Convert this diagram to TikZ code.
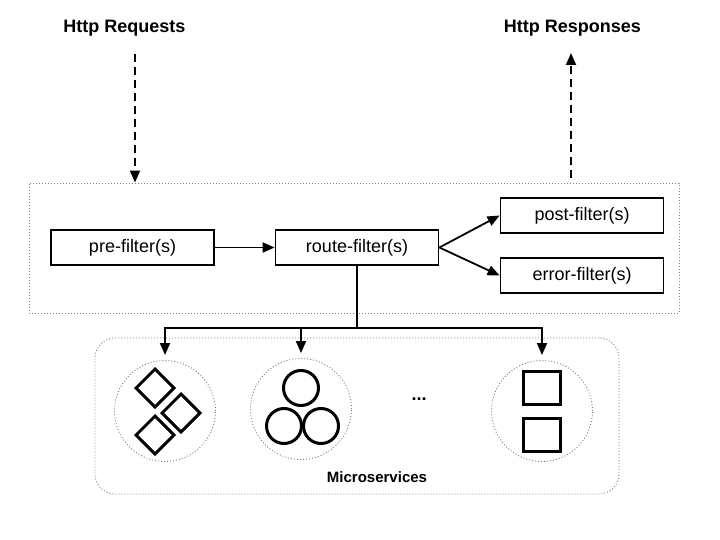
\documentclass[tikz,border=0pt]{standalone}
\usepackage{fontspec}
\setmainfont{Liberation Sans}
\usetikzlibrary{arrows.meta,shapes.geometric}

\tikzset{
    filterbox/.style={draw, line width=1.8bp, minimum width=163bp, minimum height=35bp, inner sep=0pt,
        font=\fontsize{18bp}{22bp}\selectfont},
    groupbox/.style={draw=gray, line width=0.9bp, dash pattern=on 1bp off 2bp, inner sep=0pt},
    httplabel/.style={font=\fontsize{18bp}{22bp}\selectfont\bfseries, anchor=base, inner sep=0pt},
    flow/.style={line width=1.8bp, -{Triangle[length=12bp,width=10bp]}},
    httpflow/.style={flow, dash pattern=on 8bp off 5bp},
    gem/.style={draw, diamond, line width=3bp, minimum size=39bp, inner sep=0pt},
    ball/.style={draw, circle, line width=3bp, minimum size=35bp, inner sep=0pt},
    block/.style={draw, rectangle, line width=3bp, minimum width=37bp, minimum height=33bp, inner sep=0pt},
}

\begin{document}
\begin{tikzpicture}[x=1bp, y=-1bp]
    \useasboundingbox (0,0) rectangle (720,540);

    \node[httplabel] (requests) at (124.5,33) {Http Requests};
    \node[httplabel] (responses) at (572.5,33) {Http Responses};

    \node[groupbox, minimum width=650bp, minimum height=130bp] (gateway) at (354,248) {};

    \node[filterbox] (pre) at (132.5,247.5) {pre-filter(s)};
    \node[filterbox] (route) at (357,247.5) {route-filter(s)};
    \node[filterbox] (post) at (582,215.5) {post-filter(s)};
    \node[filterbox] (error) at (582,275.5) {error-filter(s)};

    \coordinate (reqtop) at (135,54);
    \coordinate (respbottom) at (571,178);
    \coordinate (respend) at (571,53);
    \coordinate (split) at (357,328);

    \draw[httpflow] (reqtop) -- (reqtop |- gateway.north);
    \draw[httpflow] (respbottom) -- (respend);

    \draw[flow] (pre) -- (route);
    \draw[flow] (route.east) -- (post.west);
    \draw[flow] (route.east) -- (error.west);

    \node[groupbox, rounded corners=20bp, minimum width=524bp, minimum height=156bp] (services) at (357,416) {};
    \node[font=\fontsize{15bp}{18bp}\selectfont\bfseries, anchor=base, inner sep=0pt] (servicelabel) at (377,482) {Microservices};

    \node[groupbox, circle, minimum size=101bp] (svcA) at (165,411) {};
    \node[groupbox, circle, minimum size=101bp] (svcB) at (301,409) {};
    \node[groupbox, circle, minimum size=101bp] (svcC) at (542,411) {};
    \node[font=\fontsize{18bp}{22bp}\selectfont\bfseries, anchor=base, inner sep=0pt] (more) at (419,400) {...};

    \draw[line width=1.8bp] (route.south) -- (split);
    \foreach \svc in {svcA,svcB,svcC}
        \draw[flow] (split) -| ([yshift=5bp]\svc.north);

    \node[gem] (gemA) at (155,388) {};
    \node[gem] (gemB) at (181,413) {};
    \node[gem] (gemC) at (155,435) {};

    \node[ball] (ballA) at (301,388) {};
    \node[ball] (ballB) at (284,426) {};
    \node[ball] (ballC) at (321,426) {};

    \node[block] (blockA) at (542,388) {};
    \node[block] (blockB) at (542,434.5) {};
\end{tikzpicture}
\end{document}
